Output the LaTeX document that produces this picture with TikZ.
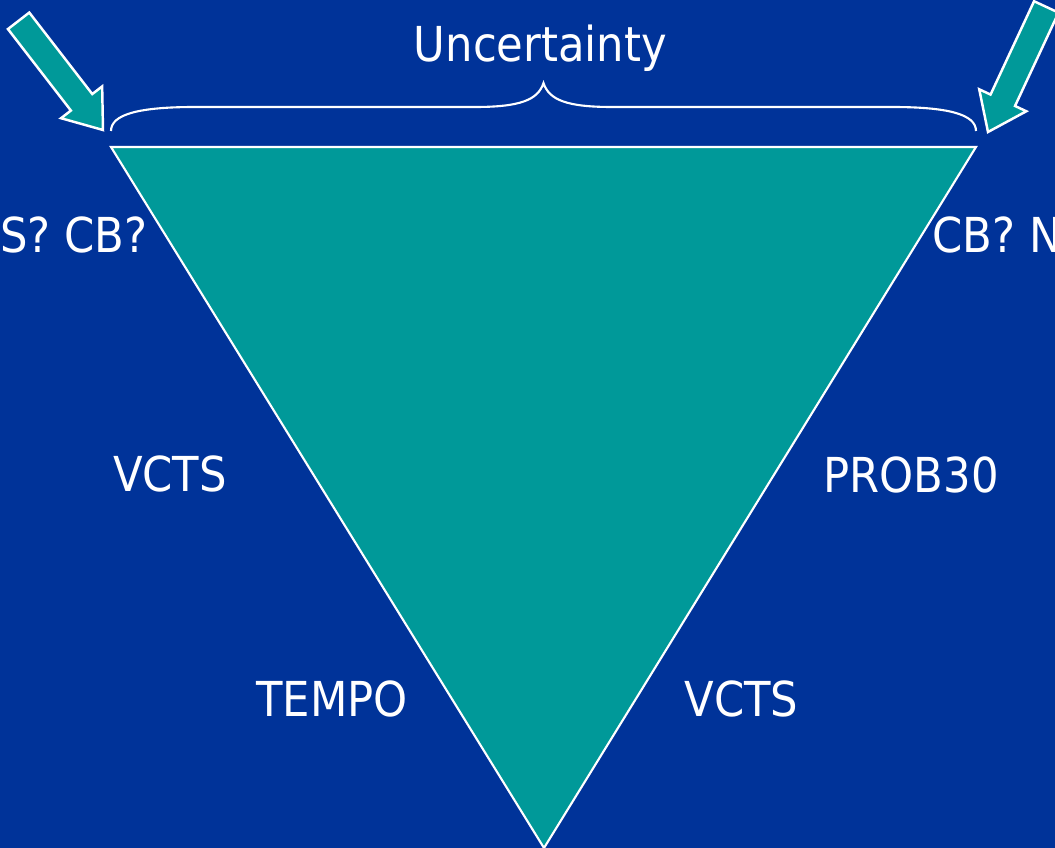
\documentclass[tikz,border=0pt]{standalone}
\usepackage{fontspec}
\setmainfont{DejaVu Sans}[FakeStretch=0.9]
\usepackage{tikz}
\definecolor{slideblue}{RGB}{0, 51, 153}
\definecolor{slideteal}{RGB}{0, 153, 153}

% block arrow with its tip at #1, pointing along angle #2
\newcommand{\tealarrow}[2]{%
  \draw[white, line width=0.7pt, fill=slideteal, shift={#1}, rotate=#2]
    (0,0) -- (-0.35,0.26) -- (-0.35,0.135) -- (-1.38,0.135) -- (-1.38,-0.135)
    -- (-0.35,-0.135) -- (-0.35,-0.26) -- cycle;}

\begin{document}
\begin{tikzpicture}[font=\fontsize{13.7}{16}\selectfont]
        \clip (0,0) rectangle (10.55,8.48);
        \fill[slideblue] (0,0) rectangle (10.55,8.48);
        % funnel
        \coordinate (tl) at (1.11,7.01);
        \coordinate (tr) at (9.76,7.01);
        \coordinate (bot) at (5.44,0);
        \draw[white, line width=0.6pt, fill=slideteal] (tl) -- (tr) -- (bot) -- cycle;
        % brace over the top edge
        \coordinate (bl) at (1.11,7.17);
        \coordinate (br) at (9.76,7.17);
        \coordinate (btip) at (5.435,7.65);
        \draw[white, line width=0.6pt] (bl) .. controls (1.11,7.34) and (1.40,7.41) .. (1.95,7.41)
            -- (4.75,7.41) .. controls (5.20,7.41) and (5.38,7.48) .. (btip)
            .. controls (5.49,7.48) and (5.67,7.41) .. (6.12,7.41)
            -- (8.92,7.41) .. controls (9.47,7.41) and (9.76,7.34) .. (br);
        \node[white, anchor=base, inner sep=0] (unc) at (5.405,7.86) {Uncertainty};
        % arrows at the corners
        \tealarrow{(1.03,7.18)}{-52.3}
        \tealarrow{(9.88,7.16)}{-115}
        % labels
        \node[white, anchor=base east, inner sep=0] (ltop) at (1.48,5.95) {TS? CB?};
        \node[white, anchor=base west, inner sep=0] (rtop) at (9.32,5.95) {CB? N};
        \node[white, anchor=base, inner sep=0] (lmid) at (1.70,3.56) {VCTS};
        \node[white, anchor=base, inner sep=0] (rmid) at (9.11,3.55) {PROB30};
        \node[white, anchor=base, inner sep=0] (llow) at (3.32,1.31) {TEMPO};
        \node[white, anchor=base, inner sep=0] (rlow) at (7.415,1.31) {VCTS};
    \end{tikzpicture}
\end{document}
